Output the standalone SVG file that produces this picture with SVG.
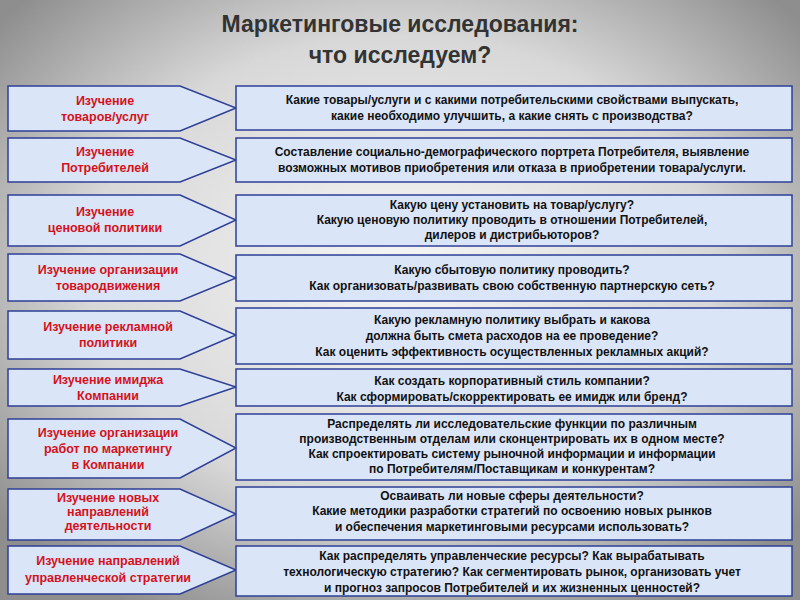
<svg xmlns="http://www.w3.org/2000/svg" width="800" height="600" viewBox="0 0 800 600">
<defs>
<radialGradient id="bg" cx="50%" cy="45%" r="65%">
<stop offset="0" stop-color="#f6f6f6"/><stop offset="0.6" stop-color="#d8d8d8"/><stop offset="1" stop-color="#8e8e8e"/>
</radialGradient>
<style>
.s{fill:#dbe5f8;stroke:#2e3f96;stroke-width:1.5}
.l{font-family:"Liberation Sans",Arial,sans-serif;font-size:12.5px;font-weight:bold;fill:#d3121c;text-anchor:middle}
.r{font-family:"Liberation Sans",Arial,sans-serif;font-size:12px;font-weight:bold;fill:#111;text-anchor:middle}
.t{font-family:"Liberation Sans",Arial,sans-serif;font-size:23px;font-weight:bold;fill:#333;text-anchor:middle}
</style>
</defs>
<rect width="800" height="600" fill="url(#bg)"/>
<text class="t" x="400" y="32">Маркетинговые исследования:</text>
<text class="t" x="400" y="63">что исследуем?</text>
<g id="n1"><path class="s" d="M8,86H180L236,108L180,131H8Z"/><text class="l" x="105" y="105">Изучение</text><text class="l" x="105" y="121">товаров/услуг</text>
<rect class="s" x="236" y="86" width="556" height="44"/><text class="r" x="512" y="104">Какие товары/услуги и с какими потребительскими свойствами выпускать,</text><text class="r" x="512" y="120">какие необходимо улучшить, а какие снять с производства?</text></g>
<g id="n2"><path class="s" d="M8,138H180L236,160L180,182H8Z"/><text class="l" x="105" y="156">Изучение</text><text class="l" x="105" y="172">Потребителей</text>
<rect class="s" x="236" y="138" width="556" height="44"/><text class="r" x="512" y="156">Составление социально-демографического портрета Потребителя, выявление</text><text class="r" x="512" y="172">возможных мотивов приобретения или отказа в приобретении товара/услуги.</text></g>
<g id="n3"><path class="s" d="M8,195H180L236,220L180,246H8Z"/><text class="l" x="105" y="216">Изучение</text><text class="l" x="105" y="232">ценовой политики</text>
<rect class="s" x="236" y="195" width="556" height="51"/><text class="r" x="512" y="209">Какую цену установить на товар/услугу?</text><text class="r" x="512" y="224">Какую ценовую политику проводить в отношении Потребителей,</text><text class="r" x="512" y="239">дилеров и дистрибьюторов?</text></g>
<g id="n4"><path class="s" d="M8,254H180L236,278L180,301H8Z"/><text class="l" x="108" y="274">Изучение организации</text><text class="l" x="108" y="290">товародвижения</text>
<rect class="s" x="236" y="255" width="556" height="46"/><text class="r" x="512" y="274">Какую сбытовую политику проводить?</text><text class="r" x="512" y="290">Как организовать/развивать свою собственную партнерскую сеть?</text></g>
<g id="n5"><path class="s" d="M8,311H180L236,335L180,359H8Z"/><text class="l" x="108" y="331">Изучение рекламной</text><text class="l" x="108" y="347">политики</text>
<rect class="s" x="236" y="308" width="556" height="56"/><text class="r" x="512" y="324">Какую рекламную политику выбрать и какова</text><text class="r" x="512" y="340">должна быть смета расходов на ее проведение?</text><text class="r" x="512" y="356">Как оценить эффективность осуществленных рекламных акций?</text></g>
<g id="n6"><path class="s" d="M8,369H180L236,387L180,406H8Z"/><text class="l" x="108" y="384">Изучение имиджа</text><text class="l" x="108" y="400">Компании</text>
<rect class="s" x="236" y="369" width="556" height="37"/><text class="r" x="512" y="385">Как создать корпоративный стиль компании?</text><text class="r" x="512" y="401">Как сформировать/скорректировать ее имидж или бренд?</text></g>
<g id="n7"><path class="s" d="M8,419H180L236,448L180,478H8Z"/><text class="l" x="108" y="437">Изучение организации</text><text class="l" x="108" y="453">работ по маркетингу</text><text class="l" x="108" y="469">в Компании</text>
<rect class="s" x="236" y="414" width="556" height="66"/><text class="r" x="512" y="428">Распределять ли исследовательские функции по различным</text><text class="r" x="512" y="443">производственным отделам или сконцентрировать их в одном месте?</text><text class="r" x="512" y="458">Как спроектировать систему рыночной информации и информации</text><text class="r" x="512" y="473">по Потребителям/Поставщикам и конкурентам?</text></g>
<g id="n8"><path class="s" d="M8,489H180L236,514L180,540H8Z"/><text class="l" x="108" y="502">Изучение новых</text><text class="l" x="108" y="516">направлений</text><text class="l" x="108" y="530">деятельности</text>
<rect class="s" x="236" y="487" width="556" height="53"/><text class="r" x="512" y="500">Осваивать ли новые сферы деятельности?</text><text class="r" x="512" y="515">Какие методики разработки стратегий по освоению новых рынков</text><text class="r" x="512" y="531">и обеспечения маркетинговыми ресурсами использовать?</text></g>
<g id="n9"><path class="s" d="M8,546H180L236,570L180,594H8Z"/><text class="l" x="108" y="565">Изучение направлений</text><text class="l" x="108" y="582">управленческой стратегии</text>
<rect class="s" x="236" y="546" width="556" height="50"/><text class="r" x="512" y="560">Как распределять управленческие ресурсы? Как вырабатывать</text><text class="r" x="512" y="576">технологическую стратегию? Как сегментировать рынок, организовать учет</text><text class="r" x="512" y="592">и прогноз запросов Потребителей и их жизненных ценностей?</text></g>
<g id="connectors"/>
</svg>
